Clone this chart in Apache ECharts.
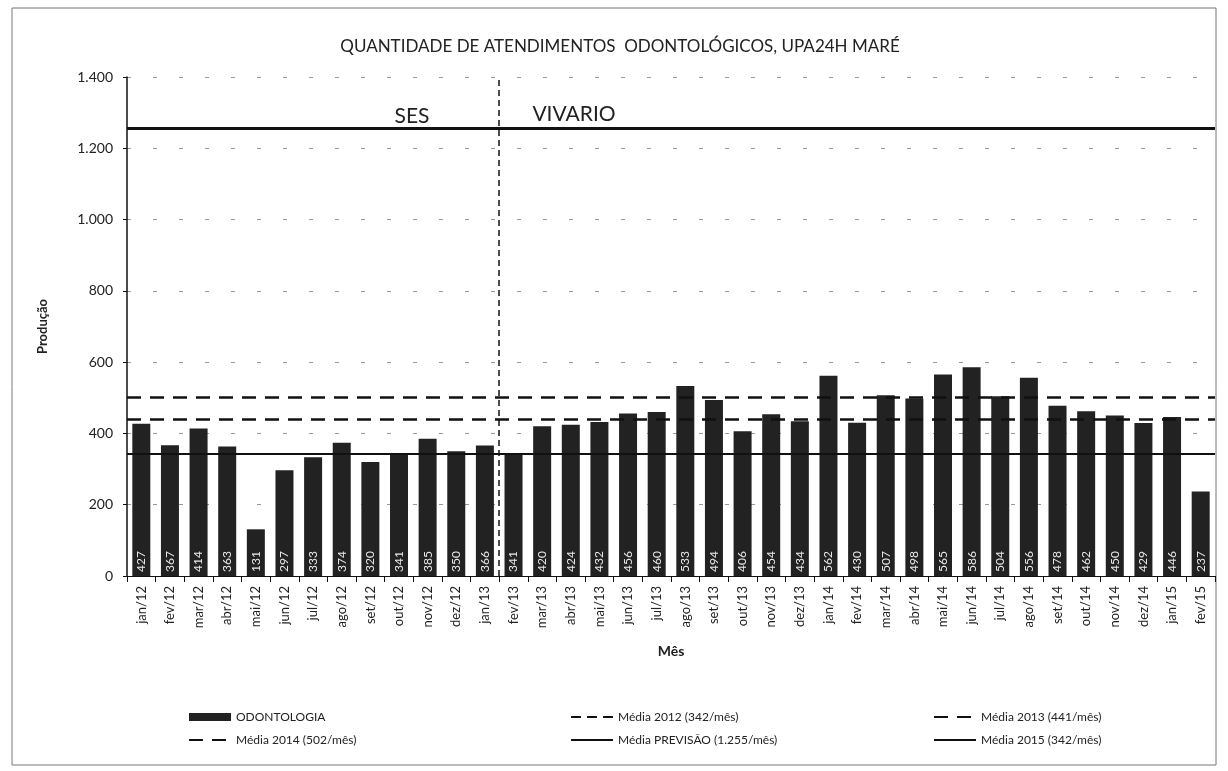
<!DOCTYPE html>
<html>
<head>
<meta charset="utf-8">
<script src="https://cdn.jsdelivr.net/npm/echarts@6/dist/echarts.min.js"></script>
<style>
  html, body { margin: 0; padding: 0; background: #fff; }
  #chart { width: 1228px; height: 771px; }
</style>
</head>
<body>
<div id="chart"></div>
<script>
// meses (jan/12 .. fev/15)
const months = [
  'jan/12', 'fev/12', 'mar/12', 'abr/12', 'mai/12', 'jun/12', 'jul/12', 'ago/12', 'set/12', 'out/12', 'nov/12', 'dez/12',
  'jan/13', 'fev/13', 'mar/13', 'abr/13', 'mai/13', 'jun/13', 'jul/13', 'ago/13', 'set/13', 'out/13', 'nov/13', 'dez/13',
  'jan/14', 'fev/14', 'mar/14', 'abr/14', 'mai/14', 'jun/14', 'jul/14', 'ago/14', 'set/14', 'out/14', 'nov/14', 'dez/14',
  'jan/15', 'fev/15'
];

// atendimentos odontologicos por mes
const odontologia = [
  427, 367, 414, 363, 131, 297, 333, 374, 320, 341, 385, 350,
  366, 341, 420, 424, 432, 456, 460, 533, 494, 406, 454, 434,
  562, 430, 507, 498, 565, 586, 504, 556, 478, 462, 450, 429,
  446, 237
];

// medias (linhas horizontais)
const mediaNames = [
  'Média 2012 (342/mês)',
  'Média 2013 (441/mês)',
  'Média 2014 (502/mês)',
  'Média PREVISÃO (1.255/mês)',
  'Média 2015 (342/mês)'
];
const mediaValues = [342, 441, 502, 1255, 342];

const yTicks = [0, 200, 400, 600, 800, 1000, 1200, 1400];

// separacao SES / VIVARIO: fronteira entre jan/13 e fev/13
const splitIndex = 13;

const mediaStyles = [
  { color: '#111', width: 2, type: [10, 6] },
  { color: '#111', width: 2.5, type: [14, 9] },
  { color: '#111', width: 2.5, type: [14, 9] },
  { color: '#111', width: 3, type: 'solid' },
  { color: '#111', width: 2, type: 'solid' }
];

const fmt = v => String(v).replace(/\B(?=(\d{3})+(?!\d))/g, '.');

const chart = echarts.init(document.getElementById('chart'));

const font = 'Lato, "Open Sans", sans-serif';

const series = [
  {
    name: 'ODONTOLOGIA',
    type: 'bar',
    data: odontologia,
    barWidth: 18,
    itemStyle: { color: '#222' },
    label: {
      show: true,
      position: 'insideBottom',
      rotate: 90,
      align: 'left',
      verticalAlign: 'middle',
      distance: 4,
      color: '#e8e8e8',
      fontSize: 12,
      fontFamily: font
    }
  },
  {
    // linha vertical SES | VIVARIO, num eixo de valores escondido
    name: 'separador',
    type: 'line',
    xAxisIndex: 1,
    data: [],
    markLine: {
      silent: true,
      symbol: 'none',
      label: { show: false },
      lineStyle: { color: '#111', width: 1.5, type: [6, 4] },
      data: [{ xAxis: splitIndex }]
    }
  }
];

mediaNames.forEach((name, i) => {
  series.push({
    name: name,
    type: 'line',
    data: [],
    symbol: 'none',
    lineStyle: mediaStyles[i],
    itemStyle: { color: '#111' },
    markLine: {
      silent: true,
      symbol: 'none',
      label: { show: false },
      lineStyle: mediaStyles[i],
      data: [{ yAxis: mediaValues[i] }]
    }
  });
});

const legendText = { fontSize: 12, color: '#222', fontFamily: font };
const lineItem = name => ({ name: name, itemStyle: { opacity: 0 } });

chart.setOption({
  animation: false,
  backgroundColor: '#fff',
  graphic: [
    {
      type: 'rect',
      shape: { x: 12, y: 8, width: 1204, height: 757 },
      style: { fill: 'none', stroke: '#777', lineWidth: 1 }
    }
  ],
  title: [
    {
      text: 'QUANTIDADE DE ATENDIMENTOS  ODONTOLÓGICOS, UPA24H MARÉ',
      left: 615,
      top: 33,
      textAlign: 'center',
      textStyle: { fontSize: 17, fontWeight: 'normal', color: '#222', fontFamily: font }
    },
    {
      text: 'SES',
      left: 407,
      top: 101,
      textAlign: 'center',
      textStyle: { fontSize: 21, fontWeight: 'normal', color: '#222', fontFamily: font }
    },
    {
      text: 'VIVARIO',
      left: 569,
      top: 99,
      textAlign: 'center',
      textStyle: { fontSize: 21, fontWeight: 'normal', color: '#222', fontFamily: font }
    }
  ],
  legend: [
    {
      left: 183, top: 706, orient: 'vertical', itemGap: 11,
      itemWidth: 42, itemHeight: 8, textStyle: legendText,
      data: [{ name: 'ODONTOLOGIA', icon: 'rect' }, lineItem(mediaNames[2])]
    },
    {
      left: 565, top: 706, orient: 'vertical', itemGap: 11,
      itemWidth: 42, itemHeight: 8, textStyle: legendText,
      data: [lineItem(mediaNames[0]), lineItem(mediaNames[3])]
    },
    {
      left: 928, top: 706, orient: 'vertical', itemGap: 11,
      itemWidth: 42, itemHeight: 8, textStyle: legendText,
      data: [lineItem(mediaNames[1]), lineItem(mediaNames[4])]
    }
  ],
  grid: { left: 127, right: 13, top: 77, bottom: 195 },
  xAxis: [
    {
      type: 'category',
      data: months,
      name: 'Mês',
      nameLocation: 'middle',
      nameGap: 68,
      nameTextStyle: { fontSize: 14, fontWeight: 'bold', color: '#222', fontFamily: font },
      axisLine: { lineStyle: { color: '#111', width: 1 } },
      axisTick: { show: true, lineStyle: { color: '#111' }, length: 6 },
      axisLabel: { rotate: 90, fontSize: 13, color: '#222', fontFamily: font, margin: 10 }
    },
    {
      type: 'value',
      min: 0,
      max: months.length,
      show: false,
      splitLine: { show: false }
    }
  ],
  yAxis: {
    type: 'value',
    min: 0,
    max: yTicks[yTicks.length - 1],
    interval: 200,
    name: 'Produção',
    nameLocation: 'middle',
    nameGap: 78,
    nameTextStyle: { fontSize: 13, fontWeight: 'bold', color: '#222', fontFamily: font },
    axisLine: { show: true, lineStyle: { color: '#111', width: 1.5 } },
    axisTick: { show: true, lineStyle: { color: '#111' }, length: 4 },
    axisLabel: { fontSize: 14, color: '#222', fontFamily: font, margin: 14, formatter: fmt },
    splitLine: { show: true, lineStyle: { color: '#999', type: [4, 22], width: 1 } }
  },
  series: series
});
</script>
</body>
</html>
